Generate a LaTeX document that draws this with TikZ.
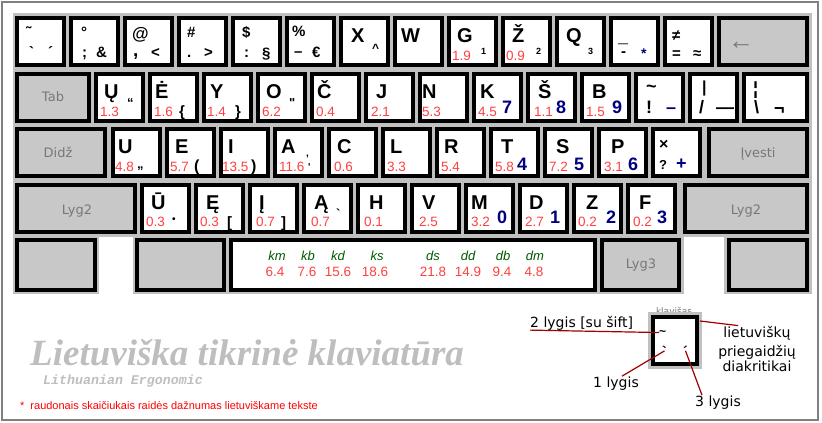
\documentclass[tikz,border=0pt]{standalone}
\usepackage{fontspec}
\newfontfamily\kbfont{Liberation Sans}
\newfontfamily\pixfont{DejaVu Sans}
\newfontfamily\titlefont{Liberation Serif}
\newfontfamily\ergofont{Liberation Mono}
\usetikzlibrary{calc}

\definecolor{kbgray}{RGB}{192,192,192}
\definecolor{keygray}{RGB}{200,200,200}
\definecolor{numred}{RGB}{255,64,64}
\definecolor{digblue}{RGB}{0,0,128}
\definecolor{labgreen}{RGB}{0,90,0}
\definecolor{legred}{RGB}{160,0,0}
\definecolor{txtgray}{RGB}{120,120,120}
\definecolor{titlegray}{RGB}{190,190,190}
\definecolor{framegray}{RGB}{128,128,128}

\begin{document}
\begin{tikzpicture}[x=1pt,y=-1pt,
  kbkey/.style={draw, line width=4pt, fill=white, anchor=north west, inner sep=0pt, outer sep=0pt, minimum width=47pt, minimum height=47pt},
  gkbkey/.style={kbkey, fill=keygray},
  ltr/.style={anchor=base west, inner sep=0pt, font=\kbfont\fontsize{20}{20}\selectfont\bfseries},
  num/.style={anchor=base west, inner sep=0pt, text=numred, font=\kbfont\fontsize{13.5}{13.5}\selectfont},
  snum/.style={num, anchor=base},
  dig/.style={anchor=base west, inner sep=0pt, text=digblue, font=\kbfont\fontsize{#1}{#1}\selectfont\bfseries},
  dig/.default=18,
  sym/.style={anchor=base west, inner sep=0pt, font=\kbfont\fontsize{#1}{#1}\selectfont\bfseries},
  sym/.default=15,
  gtxt/.style={anchor=base, inner sep=0pt, text=txtgray, font=\pixfont\fontsize{13}{13}\selectfont},
  lab/.style={anchor=base, inner sep=0pt, text=labgreen, font=\kbfont\fontsize{13}{13}\selectfont\itshape},
  leg/.style={anchor=base west, inner sep=0pt, font=\pixfont\fontsize{14}{14}\selectfont},
  legline/.style={legred, line width=1.2pt}]
\useasboundingbox (0,0) rectangle (822,423);
\draw[framegray, line width=1.5pt] (2,2) rectangle (818,420);

% keyboard background
\fill[kbgray] (13,13) rectangle (812,237);
\fill[kbgray] (13,236) rectangle (99,294);
\fill[kbgray] (133,236) rectangle (684,294);
\fill[kbgray] (724,236) rectangle (812,294);

% row 1
\node[kbkey] (k11) at (17,18) {}; \node[sym] (k11a) at (26,37) {˜}; \node[sym] (k11b) at (29,57) {`}; \node[sym] (k11c) at (48,57) {´};
\node[kbkey] (k12) at (71,18) {}; \node[sym] (k12a) at (81,37) {°}; \node[sym] (k12b) at (82,57) {;}; \node[sym] (k12c) at (96,57) {\&};
\node[kbkey] (k13) at (125,18) {}; \node[sym=17] (k13a) at (132,39) {@}; \node[sym=19] (k13b) at (133,56) {,}; \node[sym] (k13c) at (151,57) {<};
\node[kbkey] (k14) at (179,18) {}; \node[sym] (k14a) at (187,37) {\#}; \node[sym] (k14b) at (187,57) {.}; \node[sym] (k14c) at (204,57) {>};
\node[kbkey] (k15) at (233,18) {}; \node[sym] (k15a) at (242,37) {\$}; \node[sym] (k15b) at (244,57) {:}; \node[sym] (k15c) at (262,58) {§};
\node[kbkey] (k16) at (287,18) {}; \node[sym] (k16a) at (292,36) {\%}; \node[sym] (k16b) at (294,56) {–}; \node[sym] (k16c) at (312,57) {€};
\node[kbkey] (k17) at (341,18) {}; \node[ltr] (k17a) at (351,42) {X}; \node[sym=12] (k17b) at (372,52) {\textasciicircum};
\node[kbkey] (k18) at (395,18) {}; \node[ltr] (k18a) at (401,42) {W};
\node[kbkey] (k19) at (449,18) {}; \node[ltr] (k19a) at (457,42) {G}; \node[num] (k19b) at (452,60) {1.9}; \node[sym=9] (k19c) at (481,54) {1};
\node[kbkey] (k110) at (503,18) {}; \node[ltr] (k110a) at (512,42) {Ž}; \node[num] (k110b) at (506,60) {0.9}; \node[sym=9] (k110c) at (536,54) {2};
\node[kbkey] (k111) at (557,18) {}; \node[ltr] (k111a) at (566,42) {Q}; \node[sym=9] (k111c) at (588,54) {3};
\node[kbkey] (k112) at (611,18) {}; \node[sym=18] (k112a) at (618,57) {¯}; \node[sym] (k112b) at (621,56) {-}; \node[dig=14] (k112c) at (641,58) {*};
\node[kbkey] (k113) at (665,18) {}; \node[sym] (k113a) at (672,40) {≠}; \node[sym] (k113b) at (672,58) {=}; \node[sym] (k113c) at (693,58) {≈};
\node[gkbkey, minimum width=88pt] (k114) at (719,18) {}; \node[gtxt, font=\kbfont\fontsize{26}{26}\selectfont] (k114a) at (741,49) {←};

% row 2
\node[gkbkey, minimum width=72pt] (k21) at (17,74) {}; \node[gtxt] (k21a) at (53,101) {Tab};
\node[kbkey] (k22) at (96,74) {}; \node[ltr] (k22a) at (104,98) {Ų}; \node[num] (k22b) at (100,116) {1.3}; \node[sym=13] (k22c) at (127,107) {“};
\node[kbkey] (k23) at (150,74) {}; \node[ltr] (k23a) at (155,98) {Ė}; \node[num] (k23b) at (154,116) {1.6}; \node[sym=15] (k23c) at (179,116) {\{};
\node[kbkey] (k24) at (204,74) {}; \node[ltr] (k24a) at (210,98) {Y}; \node[num] (k24b) at (207,116) {1.4}; \node[sym=15] (k24c) at (235,116) {\}};
\node[kbkey] (k25) at (258,74) {}; \node[ltr] (k25a) at (266,98) {O}; \node[num] (k25b) at (262,116) {6.2}; \node[sym=13] (k25c) at (289,107) {"};
\node[kbkey] (k26) at (312,74) {}; \node[ltr] (k26a) at (317,98) {Č}; \node[num] (k26b) at (316,116) {0.4};
\node[kbkey] (k27) at (366,74) {}; \node[ltr] (k27a) at (376,98) {J}; \node[num] (k27b) at (371,116) {2.1};
\node[kbkey] (k28) at (420,74) {}; \node[ltr] (k28a) at (422,98) {N}; \node[num] (k28b) at (422,116) {5.3};
\node[kbkey] (k29) at (474,74) {}; \node[ltr] (k29a) at (480,98) {K}; \node[num] (k29b) at (478,116) {4.5}; \node[dig] (k29c) at (502,113) {7};
\node[kbkey] (k210) at (528,74) {}; \node[ltr] (k210a) at (538,98) {Š}; \node[num] (k210b) at (534,116) {1.1}; \node[dig] (k210c) at (556,113) {8};
\node[kbkey] (k211) at (582,74) {}; \node[ltr] (k211a) at (592,98) {B}; \node[num] (k211b) at (586,116) {1.5}; \node[dig] (k211c) at (612,113) {9};
\node[kbkey] (k212) at (636,74) {}; \node[sym=18] (k212a) at (646,92) {\textasciitilde}; \node[sym=18] (k212b) at (646,113) {!}; \node[dig] (k212c) at (666,113) {–};
\node[kbkey] (k213) at (690,74) {}; \node[sym=16] (k213a) at (702,92) {|}; \node[sym=18] (k213b) at (699,113) {/}; \node[sym=18] (k213c) at (716,113) {—};
\node[kbkey, minimum width=63pt] (k214) at (744,74) {}; \node[sym=18] (k214a) at (753,94) {¦}; \node[sym=18] (k214b) at (754,113) {\textbackslash}; \node[sym=18] (k214c) at (774,114) {¬};

% row 3
\node[gkbkey, minimum width=88pt] (k31) at (17,129) {}; \node[gtxt] (k31a) at (58,157) {Didž};
\node[kbkey] (k32) at (113,129) {}; \node[ltr] (k32a) at (118,153) {U}; \node[num] (k32b) at (115,171) {4.8}; \node[sym=13] (k32c) at (137,168) {„};
\node[kbkey] (k33) at (167,129) {}; \node[ltr] (k33a) at (175,153) {E}; \node[num] (k33b) at (170,171) {5.7}; \node[sym=16] (k33c) at (194,171) {(};
\node[kbkey] (k34) at (221,129) {}; \node[ltr] (k34a) at (228,153) {I}; \node[num] (k34b) at (222,171) {13.5}; \node[sym=16] (k34c) at (251,171) {)};
\node[kbkey] (k35) at (275,129) {}; \node[ltr] (k35a) at (281,153) {A}; \node[num] (k35b) at (279,171) {11.6}; \node[sym=10] (k35c) at (306,156) {,}; \node[sym=10] (k35d) at (308,170) {'};
\node[kbkey] (k36) at (329,129) {}; \node[ltr] (k36a) at (337,153) {C}; \node[num] (k36b) at (334,171) {0.6};
\node[kbkey] (k37) at (383,129) {}; \node[ltr] (k37a) at (390,153) {L}; \node[num] (k37b) at (387,171) {3.3};
\node[kbkey] (k38) at (437,129) {}; \node[ltr] (k38a) at (444,153) {R}; \node[num] (k38b) at (441,171) {5.4};
\node[kbkey] (k39) at (491,129) {}; \node[ltr] (k39a) at (501,153) {T}; \node[num] (k39b) at (495,171) {5.8}; \node[dig] (k39c) at (517,170) {4};
\node[kbkey] (k310) at (545,129) {}; \node[ltr] (k310a) at (556,153) {S}; \node[num] (k310b) at (549,171) {7.2}; \node[dig] (k310c) at (574,170) {5};
\node[kbkey] (k311) at (599,129) {}; \node[ltr] (k311a) at (611,153) {P}; \node[num] (k311b) at (604,171) {3.1}; \node[dig] (k311c) at (628,170) {6};
\node[kbkey] (k312) at (653,129) {}; \node[sym=16] (k312a) at (659,149) {×}; \node[sym=13] (k312b) at (659,169) {?}; \node[dig] (k312c) at (676,169) {+};
\node[gkbkey, minimum width=98pt] (k313) at (709,129) {}; \node[gtxt] (k313a) at (758,157) {Įvesti};

% row 4
\node[gkbkey, minimum width=118pt] (k41) at (17,185) {}; \node[gtxt] (k41a) at (77,214) {Lyg2};
\node[kbkey] (k42) at (142,185) {}; \node[ltr] (k42a) at (151,209) {Ū}; \node[num] (k42b) at (146,226) {0.3}; \node[sym=10] (k42c) at (172,222) {•};
\node[kbkey] (k43) at (196,185) {}; \node[ltr] (k43a) at (206,209) {Ę}; \node[num] (k43b) at (200,226) {0.3}; \node[sym=15] (k43c) at (227,227) {[};
\node[kbkey] (k44) at (250,185) {}; \node[ltr] (k44a) at (259,209) {Į}; \node[num] (k44b) at (256,226) {0.7}; \node[sym=15] (k44c) at (281,227) {]};
\node[kbkey] (k45) at (304,185) {}; \node[ltr] (k45a) at (314,209) {Ą}; \node[num] (k45b) at (311,226) {0.7}; \node[sym=13] (k45c) at (336,218) {`};
\node[kbkey] (k46) at (358,185) {}; \node[ltr] (k46a) at (369,209) {H}; \node[num] (k46b) at (364,226) {0.1};
\node[kbkey] (k47) at (412,185) {}; \node[ltr] (k47a) at (422,209) {V}; \node[num] (k47b) at (419,226) {2.5};
\node[kbkey] (k48) at (466,185) {}; \node[ltr] (k48a) at (471,209) {M}; \node[num] (k48b) at (471,226) {3.2}; \node[dig] (k48c) at (497,223) {0};
\node[kbkey] (k49) at (520,185) {}; \node[ltr] (k49a) at (529,209) {D}; \node[num] (k49b) at (525,226) {2.7}; \node[dig] (k49c) at (550,223) {1};
\node[kbkey] (k410) at (574,185) {}; \node[ltr] (k410a) at (586,209) {Z}; \node[num] (k410b) at (578,226) {0.2}; \node[dig] (k410c) at (606,223) {2};
\node[kbkey] (k411) at (628,185) {}; \node[ltr] (k411a) at (639,209) {F}; \node[num] (k411b) at (633,226) {0.2}; \node[dig] (k411c) at (657,223) {3};
\node[gkbkey, minimum width=122pt] (k412) at (685,185) {}; \node[gtxt] (k412a) at (746,214) {Lyg2};

% row 5
\node[gkbkey, minimum width=78pt, minimum height=50pt] (k51) at (17,240) {};
\node[gkbkey, minimum width=87pt, minimum height=50pt] (k52) at (137,240) {};
\node[kbkey, minimum width=364pt, minimum height=50pt] (k53) at (231,240) {};
\node[gkbkey, minimum width=77pt, minimum height=50pt] (k54) at (602,240) {}; \node[gtxt] (k54a) at (641,268) {Lyg3};
\node[gkbkey, minimum width=78pt, minimum height=50pt] (k55) at (729,240) {};
\node[lab] (km) at (277,260) {km}; \node[snum] (km1) at (275,276) {6.4};
\node[lab] (kb) at (308,260) {kb}; \node[snum] (kb1) at (307,276) {7.6};
\node[lab] (kd) at (338,260) {kd}; \node[snum] (kd1) at (338,276) {15.6};
\node[lab] (ks) at (377,260) {ks}; \node[snum] (ks1) at (375,276) {18.6};
\node[lab] (ds) at (433,260) {ds}; \node[snum] (ds1) at (433,276) {21.8};
\node[lab] (dd) at (468,260) {dd}; \node[snum] (dd1) at (468,276) {14.9};
\node[lab] (db) at (503,260) {db}; \node[snum] (db1) at (502,276) {9.4};
\node[lab] (dm) at (535,260) {dm}; \node[snum] (dm1) at (534,276) {4.8};

% title and note
\node[anchor=base west, inner sep=0pt, text=titlegray, font=\titlefont\fontsize{37}{37}\selectfont\bfseries\itshape] (title) at (30,365) {Lietuviška tikrinė klaviatūra};
\node[anchor=base west, inner sep=0pt, text=titlegray, font=\ergofont\fontsize{13.3}{13.3}\selectfont\bfseries\itshape] (subtitle) at (43,384) {Lithuanian Ergonomic};
\node[anchor=base west, inner sep=0pt, text=red, font=\kbfont\fontsize{11}{11}\selectfont] (note) at (20,409) {*\hspace{6pt}raudonais skaičiukais raidės dažnumas lietuviškame tekste};

% legend
\node[gtxt, font=\pixfont\fontsize{9}{9}\selectfont] (klav) at (674,314) {klavišas};
\fill[kbgray] (648,312) rectangle (702,369);
\node[kbkey, minimum width=44pt, minimum height=47pt] (legkey) at (653,317) {};
\node[sym=12] (legt) at (659,335) {\textasciitilde};
\node[sym=14] (legg) at (662,356) {`};
\node[sym=14] (lega) at (683,356) {´};
\node[leg] (lvl2) at (530,327) {2 lygis [su šift]};
\node[leg] (lvl1) at (593,387) {1 lygis};
\node[leg] (lvl3) at (695,406) {3 lygis};
\node[leg, anchor=base] (diak1) at (757,337) {lietuviškų};
\node[leg, anchor=base] (diak2) at (757,356) {priegaidžių};
\node[leg, anchor=base] (diak3) at (757,371) {diakritikai};
\draw[legline] (lvl2.south west) -- (legt.west);
\draw[legline] ([xshift=3pt,yshift=-4pt]legkey.north east) -- ([xshift=15pt]diak1.north west);
\draw[legline] ([xshift=6pt]lvl1.north) -- (legg.center);
\draw[legline] (lega.center) -- ([xshift=-16pt]lvl3.north);
\end{tikzpicture}
\end{document}
